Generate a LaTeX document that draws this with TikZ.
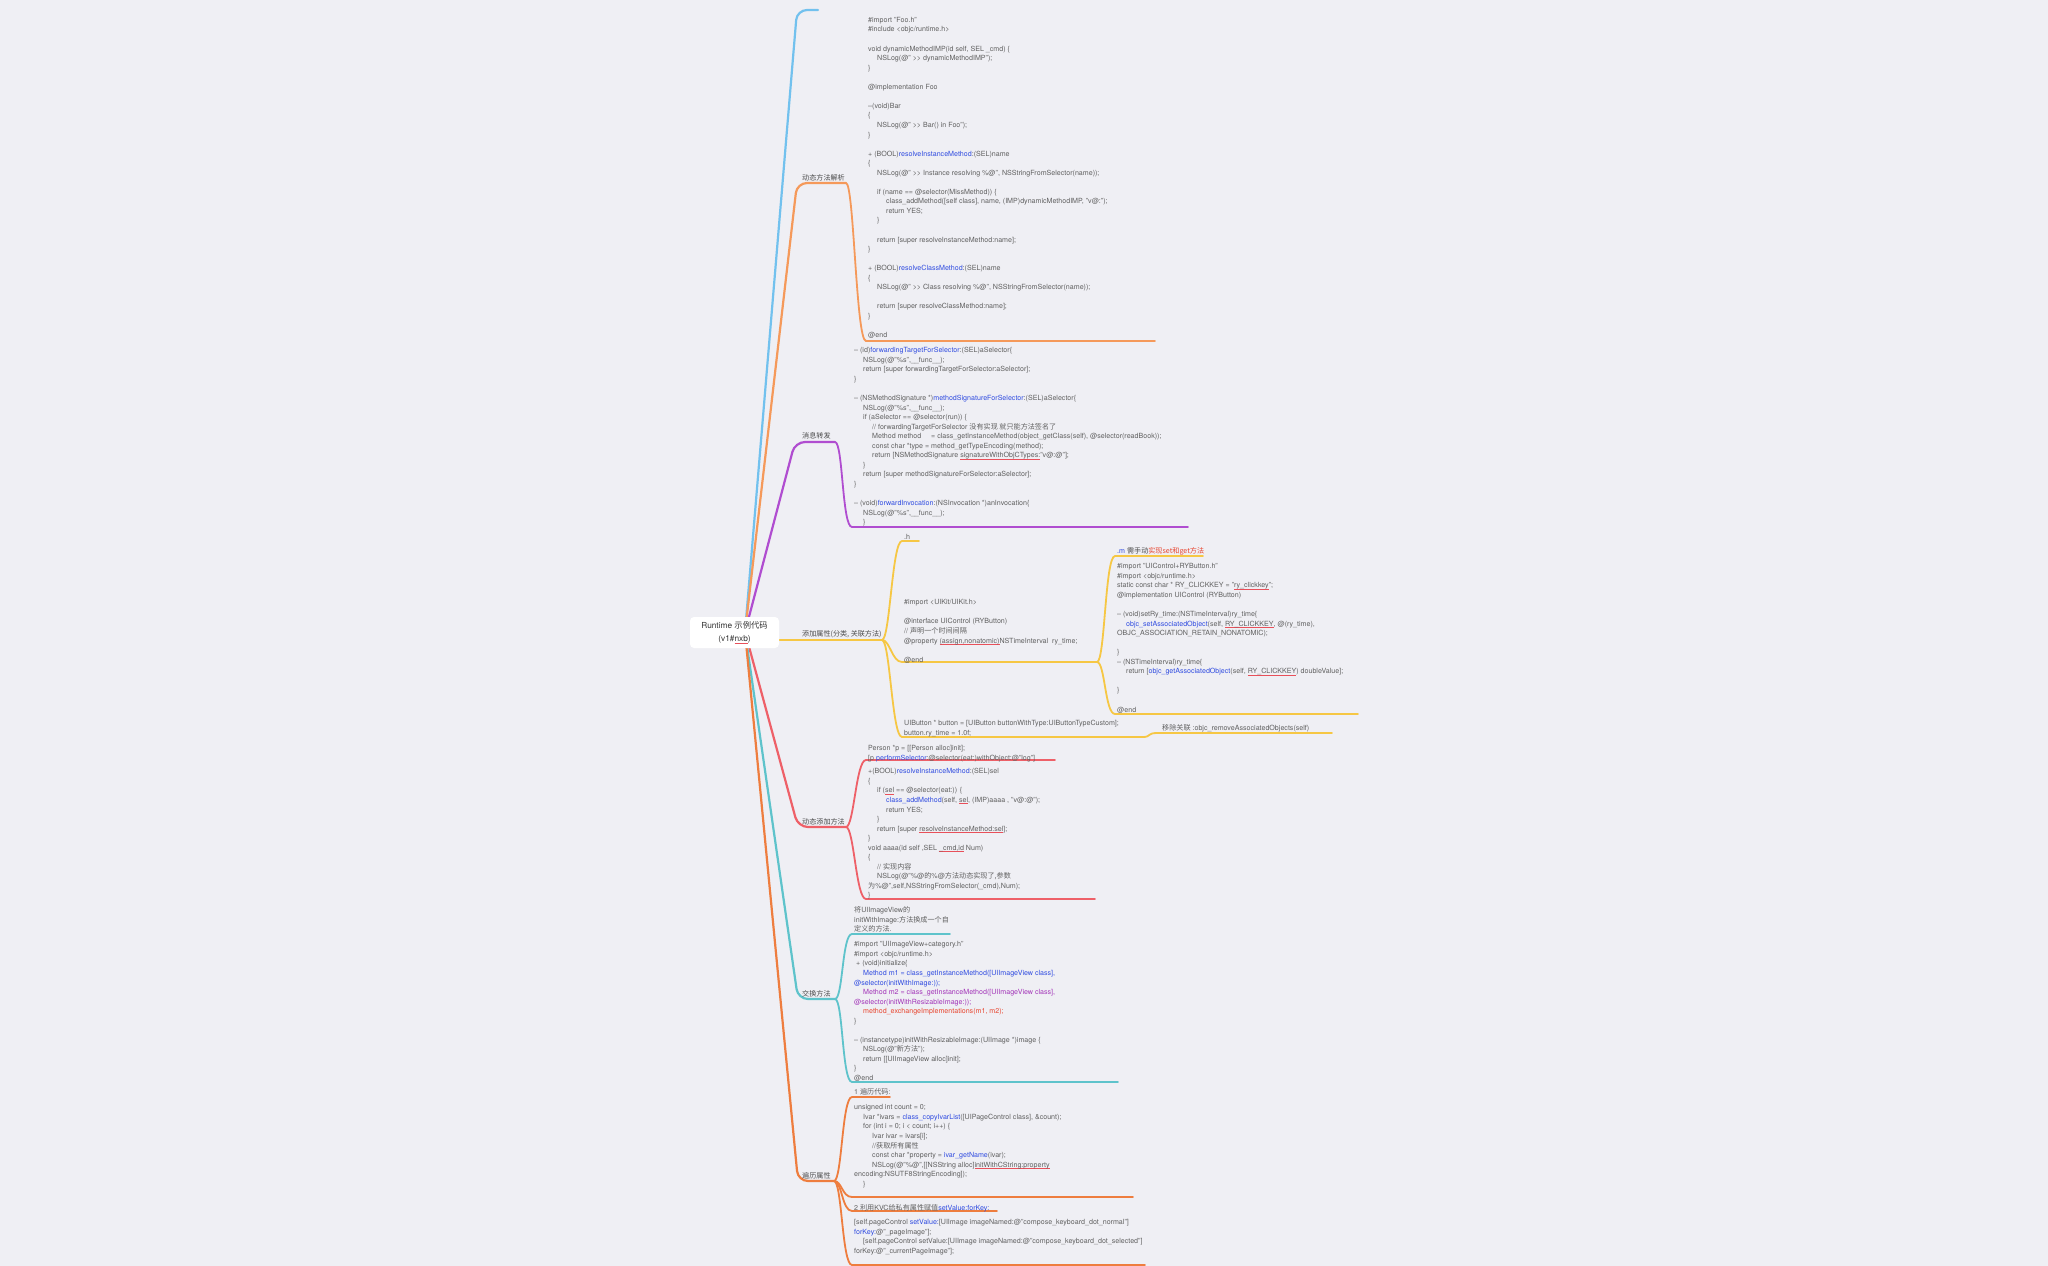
\documentclass[tikz,border=0pt]{standalone}
\usepackage{fontspec}
\setmainfont{TeX Gyre Heros}
\newfontfamily\zhfont{Noto Sans CJK SC}

\definecolor{bgc}{HTML}{EFEFF4}
\definecolor{codegray}{HTML}{606060}
\definecolor{labelgray}{HTML}{4A4A4A}
\definecolor{kwblue}{HTML}{2F4BE0}
\definecolor{kwred}{HTML}{E8452F}
\definecolor{kwpurple}{HTML}{A234B8}
\definecolor{squig}{HTML}{E8505A}
\definecolor{cBlue}{HTML}{72C1EE}
\definecolor{cOrange}{HTML}{F5995A}
\definecolor{cPurple}{HTML}{B04DD0}
\definecolor{cYellow}{HTML}{F6C744}
\definecolor{cRed}{HTML}{EE6068}
\definecolor{cTeal}{HTML}{5EC3CB}
\definecolor{cOrangeB}{HTML}{EE7D3E}

\newcommand\zh[1]{{\zhfont #1}}
\newcommand\bl[1]{\textcolor{kwblue}{#1}}
\newbox\sqbox
\newcommand\sq[1]{\setbox\sqbox\hbox{#1}\rlap{\textcolor{squig}{\rule[-1.4pt]{\wd\sqbox}{0.45pt}}}\box\sqbox}
\newcommand\ii{\hspace*{9pt}}
\newcommand\fs{\vrule height 7pt depth 0pt width 0pt}

\tikzset{
  br/.style={line width=2.2pt, line cap=round, rounded corners=10pt},
  sub/.style={line width=1.8pt, line cap=round},
  elbow/.style={to path={.. controls +(8,0) and +(-10,0) .. (\tikztotarget) \tikztonodes}},
  code/.style={anchor=north west, inner sep=0pt, align=left, text=codegray,
    font=\fontsize{7.1}{9.55}\selectfont},
  lbl/.style={anchor=base west, inner sep=0pt, text=labelgray,
    font=\zhfont\fontsize{7.1}{9}\selectfont},
  rootbox/.style={fill=white, rounded corners=4pt, inner sep=0pt,
    minimum width=89pt, minimum height=31pt, align=center, text=black!80,
    font=\fontsize{8.3}{13}\selectfont}
}

\begin{document}
\begin{tikzpicture}[x=1pt,y=-1pt]
\fill[bgc] (0,0) rectangle (2048,1266);
\useasboundingbox (0,0) rectangle (2048,1266);

% junction points
\coordinate (rc) at (745,632);
\coordinate (b0) at (797,10);   \coordinate (b1) at (818,10);
\coordinate (o0) at (797,183);  \coordinate (o1) at (846,183);
\coordinate (oA0) at (866,341); \coordinate (oA1) at (1155,341);
\coordinate (p0) at (795,442);  \coordinate (p1) at (835,442);
\coordinate (pB0) at (852,527); \coordinate (pB1) at (1188,527);
\coordinate (ys) at (760,640);  \coordinate (y1) at (882,640);
\coordinate (yh0) at (902,541); \coordinate (yh1) at (919,541);
\coordinate (yd0) at (902,662); \coordinate (yd1) at (1097,662);
\coordinate (yg0) at (902,737); \coordinate (yg1) at (1143,737);
\coordinate (ym0) at (1115,556); \coordinate (ym1) at (1203,556);
\coordinate (yf0) at (1115,714); \coordinate (yf1) at (1358,714);
\coordinate (yr0) at (1157,733); \coordinate (yr1) at (1332,733);
\coordinate (r0) at (798,827);  \coordinate (r1) at (846,827);
\coordinate (rI0) at (866,760); \coordinate (rI1) at (1055,760);
\coordinate (rJ0) at (866,899); \coordinate (rJ1) at (1095,899);
\coordinate (t0) at (798,999);  \coordinate (t1) at (835,999);
\coordinate (tK0) at (852,934); \coordinate (tK1) at (950,934);
\coordinate (tL0) at (852,1082); \coordinate (tL1) at (1118,1082);
\coordinate (q0) at (798,1181); \coordinate (q1) at (834,1181);
\coordinate (qM0) at (852,1097); \coordinate (qM1) at (890,1097);
\coordinate (qN0) at (852,1197); \coordinate (qN1) at (1133,1197);
\coordinate (qO0) at (852,1211); \coordinate (qO1) at (997,1211);
\coordinate (qP0) at (852,1265); \coordinate (qP1) at (1145,1265);

% main branches
\draw[br, cBlue] (rc) -- (b0) -- (b1);
\draw[br, cOrange] (rc) -- (o0) -- (o1);
\draw[br, cPurple] (rc) -- (p0) -- (p1);
\draw[br, cYellow] (ys) -- (y1);
\draw[br, cRed] (rc) -- (r0) -- (r1);
\draw[br, cTeal] (rc) -- (t0) -- (t1);
\draw[br, cOrangeB] (rc) -- (q0) -- (q1);

% sub-branch connectors with underlines
\draw[sub, cOrange] (o1) to[elbow] (oA0) -- (oA1);
\draw[sub, cPurple] (p1) to[elbow] (pB0) -- (pB1);
\draw[sub, cYellow] (y1) to[elbow] (yh0) -- (yh1);
\draw[sub, cYellow] (y1) to[elbow] (yd0) -- (yd1);
\draw[sub, cYellow] (y1) to[elbow] (yg0) -- (yg1);
\draw[sub, cYellow] (yd1) to[elbow] (ym0) -- (ym1);
\draw[sub, cYellow] (yd1) to[elbow] (yf0) -- (yf1);
\draw[sub, cYellow] (yg1) to[elbow] (yr0) -- (yr1);
\draw[sub, cRed] (r1) to[elbow] (rI0) -- (rI1);
\draw[sub, cRed] (r1) to[elbow] (rJ0) -- (rJ1);
\draw[sub, cTeal] (t1) to[elbow] (tK0) -- (tK1);
\draw[sub, cTeal] (t1) to[elbow] (tL0) -- (tL1);
\draw[sub, cOrangeB] (q1) to[elbow] (qM0) -- (qM1);
\draw[sub, cOrangeB] (q1) to[elbow] (qN0) -- (qN1);
\draw[sub, cOrangeB] (q1) to[elbow] (qO0) -- (qO1);
\draw[sub, cOrangeB] (q1) to[elbow] (qP0) -- (qP1);

% branch labels
\node[lbl] (lo) at (802,180.5) {动态方法解析};
\node[lbl] (lp) at (802,438.5) {消息转发};
\node[lbl] (ly) at (802,636.5) {添加属性(分类, 关联方法)};
\node[lbl] (lr) at (802,824.5) {动态添加方法};
\node[lbl] (lt) at (802,996.5) {交换方法};
\node[lbl] (lq) at (802,1178.5) {遍历属性};

% dynamic method resolution
\node[code] (cA) at (868,15.2) {\fs\#import "Foo.h"\\
\#include <objc/runtime.h>\\
~\\
void dynamicMethodIMP(id self, SEL \_cmd) \{\\
\ii NSLog(@" >{}> dynamicMethodIMP");\\
\}\\
~\\
@implementation Foo\\
~\\
--(void)Bar\\
\{\\
\ii NSLog(@" >{}> Bar() in Foo");\\
\}\\
~\\
+ (BOOL)\bl{resolveInstanceMethod}:(SEL)name\\
\{\\
\ii NSLog(@" >{}> Instance resolving \%@", NSStringFromSelector(name));\\
~\\
\ii if (name == @selector(MissMethod)) \{\\
\ii\ii class\_addMethod([self class], name, (IMP)dynamicMethodIMP, "v@:");\\
\ii\ii return YES;\\
\ii\}\\
~\\
\ii return [super resolveInstanceMethod:name];\\
\}\\
~\\
+ (BOOL)\bl{resolveClassMethod}:(SEL)name\\
\{\\
\ii NSLog(@" >{}> Class resolving \%@", NSStringFromSelector(name));\\
~\\
\ii return [super resolveClassMethod:name];\\
\}\\
~\\
@end};

% message forwarding
\node[code] (cB) at (854,345.6) {\fs-- (id)\bl{forwardingTargetForSelector}:(SEL)aSelector\{\\
\ii NSLog(@"\%s",\_\_func\_\_);\\
\ii return [super forwardingTargetForSelector:aSelector];\\
\}\\
~\\
-- (NSMethodSignature *)\bl{methodSignatureForSelector}:(SEL)aSelector\{\\
\ii NSLog(@"\%s",\_\_func\_\_);\\
\ii if (aSelector == @selector(run)) \{\\
\ii\ii // forwardingTargetForSelector \zh{没有实现 就只能方法签名了}\\
\ii\ii Method method\ \ \ \ \ = class\_getInstanceMethod(object\_getClass(self), @selector(readBook));\\
\ii\ii const char *type = method\_getTypeEncoding(method);\\
\ii\ii return [NSMethodSignature \sq{signatureWithObjCTypes:}"v@:@"];\\
\ii\}\\
\ii return [super methodSignatureForSelector:aSelector];\\
\}\\
~\\
-- (void)\bl{forwardInvocation}:(NSInvocation *)anInvocation\{\\
\ii NSLog(@"\%s",\_\_func\_\_);\\
\ii\}};

% category properties
\node[code] (cC) at (904,532.6) {\fs.h};
\node[code] (cD) at (904,597.6) {\fs\#import <UIKit/UIKit.h>\\
~\\
@interface UIControl (RYButton)\\
// \zh{声明一个时间间隔}\\
@property \sq{(assign,nonatomic)}NSTimeInterval\ \ ry\_time;\\
~\\
@end};
\node[code, text=labelgray] (cE) at (1117,546.6) {\fs\textcolor{kwblue}{.m} \zh{需手动}\textcolor{kwred}{\zh{实现set和get方法}}};
\node[code] (cF) at (1117,561.6) {\fs\#import "UIControl+RYButton.h"\\
\#import <objc/runtime.h>\\
static const char * RY\_CLICKKEY = "\sq{ry\_clickkey}";\\
@implementation UIControl (RYButton)\\
~\\
-- (void)setRy\_time:(NSTimeInterval)ry\_time\{\\
\ii\bl{objc\_setAssociatedObject}(self, \sq{RY\_CLICKKEY}, @(ry\_time),\\
OBJC\_ASSOCIATION\_RETAIN\_NONATOMIC);\\
~\\
\}\\
-- (NSTimeInterval)ry\_time\{\\
\ii return [\bl{objc\_getAssociatedObject}(self, \sq{RY\_CLICKKEY}) doubleValue];\\
~\\
\}\\
~\\
@end};
\node[code] (cG) at (904,718.6) {\fs UIButton * button = [UIButton buttonWithType:UIButtonTypeCustom];\\
button.ry\_time = 1.0f;};
\node[code] (cH) at (1162,723.6) {\fs\zh{移除关联} :objc\_removeAssociatedObjects(self)};

% dynamic method adding
\node[code] (cI) at (868,743.6) {\fs Person *p = [[Person alloc]init];\\
{}[p \bl{performSelector}:@selector(eat:)withObject:@"log"]};
\node[code] (cJ) at (868,766.6) {\fs+(BOOL)\bl{resolveInstanceMethod}:(SEL)sel\\
\{\\
\ii if (\sq{sel} == @selector(eat:)) \{\\
\ii\ii\bl{class\_addMethod}(self, \sq{sel}, (IMP)aaaa , "v@:@");\\
\ii\ii return YES;\\
\ii\}\\
\ii return [super \sq{resolveInstanceMethod:sel}];\\
\}\\
void aaaa(id self ,SEL \sq{\_cmd,id} Num)\\
\{\\
\ii // \zh{实现内容}\\
\ii NSLog(@"\%@\zh{的}\%@\zh{方法动态实现了,参数}\\
\zh{为}\%@",self,NSStringFromSelector(\_cmd),Num);\\
\}};

% method swizzling
\node[code] (cK) at (854,905.6) {\fs\zh{将}UIImageView\zh{的}\\
initWithImage:\zh{方法换成一个自}\\
\zh{定义的方法.}};
\node[code] (cL) at (854,939.6) {\fs\#import "UIImageView+category.h"\\
\#import <objc/runtime.h>\\
\hspace*{2pt}+ (void)initialize\{\\
\ii\textcolor{kwblue}{Method m1 = class\_getInstanceMethod([UIImageView class],}\\
\textcolor{kwblue}{@selector(initWithImage:));}\\
\ii\textcolor{kwpurple}{Method m2 = class\_getInstanceMethod([UIImageView class],}\\
\textcolor{kwpurple}{@selector(initWithResizableImage:));}\\
\ii\textcolor{kwred}{method\_exchangeImplementations(m1, m2);}\\
\}\\
~\\
-- (instancetype)initWithResizableImage:(UIImage *)image \{\\
\ii NSLog(@"\zh{新方法}");\\
\ii return [[UIImageView alloc]init];\\
\}\\
@end};

% ivar traversal
\node[code] (cM) at (854,1087.6) {\fs 1 \zh{遍历代码:}};
\node[code] (cN) at (854,1102.6) {\fs unsigned int count = 0;\\
\ii Ivar *ivars = \bl{class\_copyIvarList}([UIPageControl class], \&count);\\
\ii for (int i = 0; i < count; i++) \{\\
\ii\ii Ivar ivar = ivars[i];\\
\ii\ii //\zh{获取所有属性}\\
\ii\ii const char *property = \bl{ivar\_getName}(ivar);\\
\ii\ii NSLog(@"\%@",[[NSString alloc]\sq{initWithCString:property}\\
encoding:NSUTF8StringEncoding]);\\
\ii\}};
\node[code] (cO) at (854,1203) {\fs 2 \zh{利用}KVC\zh{给私有属性赋值}\bl{setValue:forKey:}};
\node[code] (cP) at (854,1217.6) {\fs[self.pageControl \bl{setValue:}[UIImage imageNamed:@"compose\_keyboard\_dot\_normal"]\\
\bl{forKey:}@"\_pageImage"];\\
\ii[self.pageControl setValue:[UIImage imageNamed:@"compose\_keyboard\_dot\_selected"]\\
forKey:@"\_currentPageImage"];};

% central topic
\node[rootbox] (root) at (734.5,632.5) {Runtime \zh{示例代码}\\(v1\#\sq{nxb})};
\end{tikzpicture}
\end{document}
